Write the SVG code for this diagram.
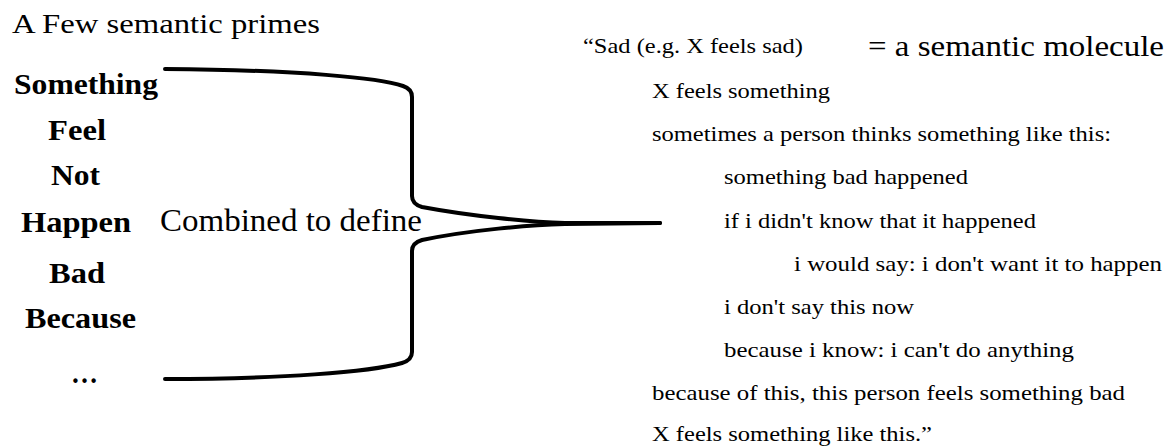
<svg xmlns="http://www.w3.org/2000/svg" width="1176" height="447" viewBox="0 0 1176 447">
<style>
.t{font-family:"Liberation Serif","Times New Roman",serif;fill:#000}
.p{font-family:"Liberation Serif","Times New Roman",serif;font-weight:bold;font-size:29px;fill:#000}
.s{font-size:21.5px}
.br{fill:none;stroke:#000;stroke-width:4;stroke-linecap:round;stroke-linejoin:round}
</style>
<rect width="1176" height="447" fill="#fff"/>
<g id="title"><text class="t" x="12" y="33" font-size="28" textLength="308" lengthAdjust="spacingAndGlyphs">A Few semantic primes</text></g>
<g id="primes">
<text class="p" x="14" y="94" textLength="144" lengthAdjust="spacingAndGlyphs">Something</text>
<text class="p" x="48" y="140" textLength="58" lengthAdjust="spacingAndGlyphs">Feel</text>
<text class="p" x="51" y="185" textLength="49" lengthAdjust="spacingAndGlyphs">Not</text>
<text class="p" x="21" y="232" textLength="110" lengthAdjust="spacingAndGlyphs">Happen</text>
<text class="p" x="49" y="283" textLength="56" lengthAdjust="spacingAndGlyphs">Bad</text>
<text class="p" x="25" y="328" textLength="111" lengthAdjust="spacingAndGlyphs">Because</text>
<text class="p" x="71" y="383" textLength="27" lengthAdjust="spacingAndGlyphs">…</text>
</g>
<g id="label"><text class="t" x="160" y="231" font-size="31" textLength="262" lengthAdjust="spacingAndGlyphs">Combined to define</text></g>
<g id="connectors">
<path class="br" d="M165,69 C300,70 380,78 403,86 Q412,89 412,97 L412,196 Q412,204 422,207 C470,216 530,222 565,223 L660,223"/>
<path class="br" d="M660,223 L565,224 C530,225 470,230 422,240 Q412,243 412,251 L412,352 Q412,360 402,363 C370,372 280,379 165,379"/>
</g>
<g id="molecule">
<text class="t s" x="583" y="53" textLength="220" lengthAdjust="spacingAndGlyphs">“Sad (e.g. X feels sad)</text>
<text class="t" x="868" y="56" font-size="30" textLength="296" lengthAdjust="spacingAndGlyphs">= a semantic molecule</text>
<text class="t s" x="652" y="98" textLength="178" lengthAdjust="spacingAndGlyphs">X feels something</text>
<text class="t s" x="652" y="141" textLength="459" lengthAdjust="spacingAndGlyphs">sometimes a person thinks something like this:</text>
<text class="t s" x="724" y="184" textLength="244" lengthAdjust="spacingAndGlyphs">something bad happened</text>
<text class="t s" x="724" y="228" textLength="312" lengthAdjust="spacingAndGlyphs">if i didn't know that it happened</text>
<text class="t s" x="794" y="271" textLength="368" lengthAdjust="spacingAndGlyphs">i would say: i don't want it to happen</text>
<text class="t s" x="724" y="314" textLength="190" lengthAdjust="spacingAndGlyphs">i don't say this now</text>
<text class="t s" x="724" y="357" textLength="350" lengthAdjust="spacingAndGlyphs">because i know: i can't do anything</text>
<text class="t s" x="652" y="400" textLength="473" lengthAdjust="spacingAndGlyphs">because of this, this person feels something bad</text>
<text class="t s" x="652" y="441" textLength="280" lengthAdjust="spacingAndGlyphs">X feels something like this.”</text>
</g>
</svg>
